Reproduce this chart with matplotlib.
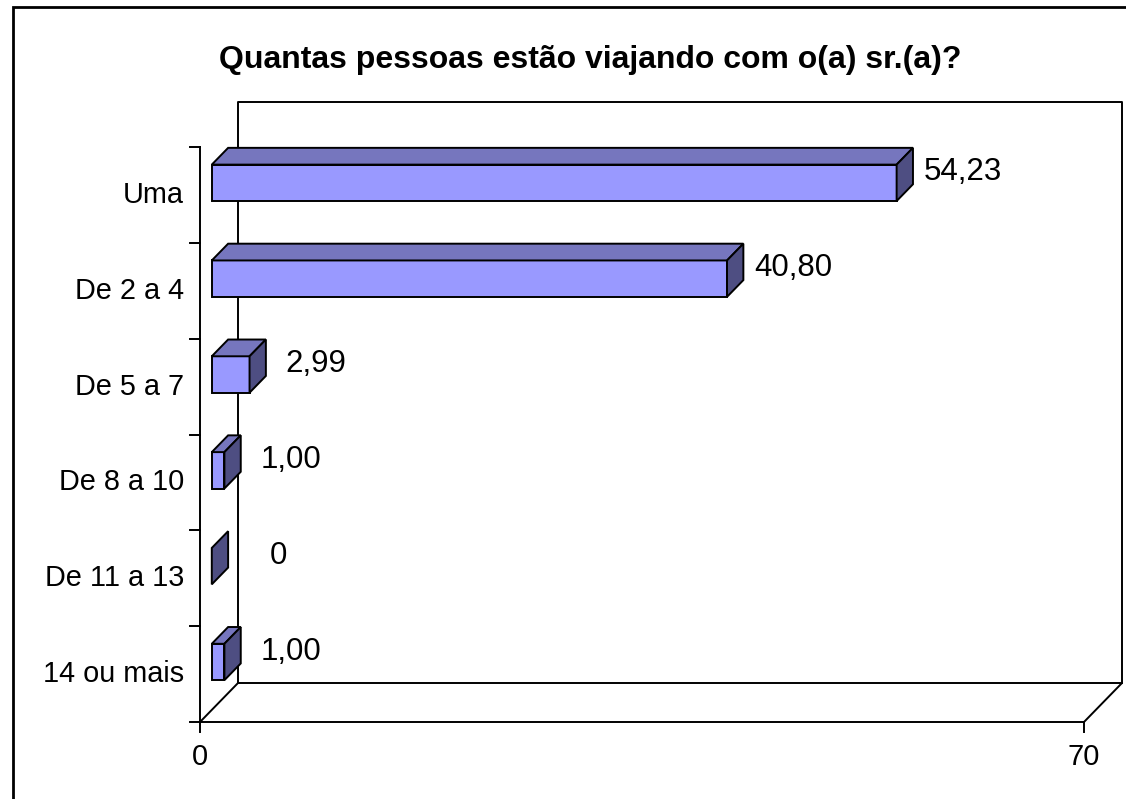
import matplotlib
matplotlib.use("Agg")
import matplotlib.pyplot as plt
from matplotlib.patches import Polygon, Rectangle

# ---- data ----
title = "Quantas pessoas estão viajando com o(a) sr.(a)?"
categories = ["Uma", "De 2 a 4", "De 5 a 7", "De 8 a 10", "De 11 a 13", "14 ou mais"]
values = [54.23, 40.80, 2.99, 1.00, 0.0, 1.00]
x_min, x_max = 0, 70
x_ticks = [0, 70]

# ---- style ----
W, H, DPI = 1126, 799, 100
FONT = "Liberation Sans"
FRONT, TOP, SIDE = "#9999FF", "#7676BE", "#4E4E82"
LW = 1.4

# layout in pixels (front plane and depth offset)
fx0, fx1 = 200, 1084        # front x of value 0 / value x_max
fy_bot, fy_top = 722, 147    # front y of bottom / top of category axis (from top)
dpx, dpy = 38, 39            # depth shift (right, up)
wall_extra_px = 6            # back wall slightly taller (perspective)

n = len(categories)
sx = (fx1 - fx0) / (x_max - x_min)     # px per value unit
sy = (fy_bot - fy_top) / n             # px per category unit
DX = dpx / sx
DY = dpy / sy

fig = plt.figure(figsize=(W / DPI, H / DPI), dpi=DPI)
ax = fig.add_axes([0, 0, 1, 1])
ax.set_xlim(x_min - fx0 / sx, x_min + (W - fx0) / sx)
ax.set_ylim(-(H - fy_bot) / sy, fy_bot / sy)
ax.axis("off")

def P(v, c, z):
    return (v + z * DX, c + z * DY)

def px_x(p):
    return p / sx

def px_y(p):
    return p / sy

line_kw = dict(color="black", lw=LW, solid_capstyle="projecting", zorder=2)

# back wall (z = 1)
wt = n + px_y(wall_extra_px)
bw = [P(x_min, 0, 1), P(x_min, wt, 1), P(x_max, wt, 1), P(x_max, 0, 1)]
ax.plot([p[0] for p in bw], [p[1] for p in bw], **line_kw)
# floor
fl = [P(x_min, 0, 1), P(x_min, 0, 0), P(x_max, 0, 0), P(x_max, 0, 1), P(x_min, 0, 1)]
ax.plot([p[0] for p in fl], [p[1] for p in fl], **line_kw)
# front category axis
ax.plot([x_min, x_min], [0, n], **line_kw)
for b in range(n + 1):
    ax.plot([x_min - px_x(10), x_min], [b, b], **line_kw)
# value ticks
for t in x_ticks:
    ax.plot([t, t], [0, -px_y(10)], **line_kw)
    ax.text(t, -px_y(35), str(t), ha="center", va="center",
            fontsize=21, family=FONT)

# category labels
for i, cat in enumerate(categories):
    c = n - 1 - i + 0.5
    ax.text(x_min - px_x(16), c, cat, ha="right", va="center",
            fontsize=20.8, family=FONT)

# bars
h = 0.19
z0, z1 = 0.31, 0.74
for i, v in enumerate(values):
    c = n - 1 - i + 0.5
    front = [P(0, c - h, z0), P(v, c - h, z0), P(v, c + h, z0), P(0, c + h, z0)]
    top = [P(0, c + h, z0), P(v, c + h, z0), P(v, c + h, z1), P(0, c + h, z1)]
    side = [P(v, c - h, z0), P(v, c - h, z1), P(v, c + h, z1), P(v, c + h, z0)]
    for poly, col in ((front, FRONT), (top, TOP), (side, SIDE)):
        if v == 0 and col != SIDE:
            continue
        ax.add_patch(Polygon(poly, closed=True, facecolor=col, edgecolor="black",
                             lw=LW, joinstyle="miter", zorder=3))
    lab = "0" if v == 0 else f"{v:.2f}".replace(".", ",")
    lx, ly = P(v, c, 0.5)
    ax.text(lx + px_x(59), ly + px_y(3), lab, ha="center", va="center",
            fontsize=22.5, family=FONT, zorder=4)

# title
fig.text(590 / W, 1 - 60 / H, title, ha="center", va="center",
         fontsize=23, fontweight="bold", family=FONT)

# chart area border
fig.patches.append(Rectangle((13 / W, -0.1), 1.2, 1.1 - 7 / H,
                             transform=fig.transFigure, fill=False,
                             edgecolor="black", lw=2.0))

fig.savefig("out.png", dpi=DPI)
